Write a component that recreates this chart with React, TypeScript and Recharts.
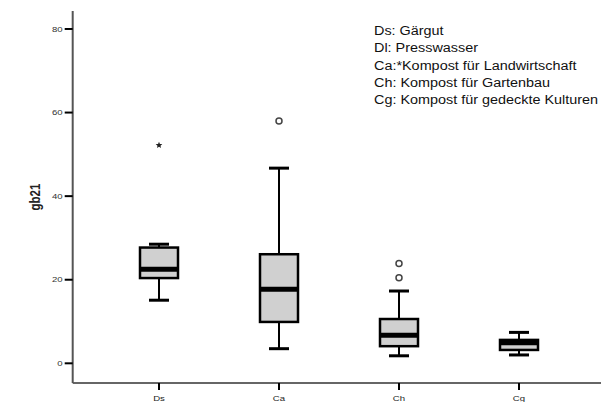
import { Bar, ComposedChart, XAxis, YAxis } from 'recharts'

const groups = ['Ds', 'Ca', 'Ch', 'Cg']
const whiskerLow = [15.1, 3.5, 1.8, 2.0]
const quartile1 = [20.4, 9.9, 4.1, 3.2]
const medians = [22.5, 17.7, 6.7, 4.9]
const quartile3 = [27.7, 26.1, 10.6, 5.6]
const whiskerHigh = [28.5, 46.7, 17.3, 7.4]
const circleOutliers: number[][] = [[], [58.0], [23.9, 20.5], []]
const starOutliers: number[][] = [[52.2], [], [], []]
const yTicks = [0, 20, 40, 60, 80]
const legendLines = [
  'Ds: Gärgut',
  'Dl: Presswasser',
  'Ca:*Kompost für Landwirtschaft',
  'Ch: Kompost für Gartenbau',
  'Cg: Kompost für gedeckte Kulturen',
]

// the source picture is a little wider than tall, text is stretched to match
const STRETCH = 1.2

const rows = groups.map((name, i) => ({
  name,
  low: whiskerLow[i],
  q1: quartile1[i],
  median: medians[i],
  q3: quartile3[i],
  high: whiskerHigh[i],
  circles: circleOutliers[i],
  stars: starOutliers[i],
}))

function starPoints(cx: number, cy: number, r: number) {
  const pts: string[] = []
  for (let k = 0; k < 10; k++) {
    const rad = k % 2 === 0 ? r : r * 0.45
    const a = -Math.PI / 2 + (k * Math.PI) / 5
    pts.push(`${cx + rad * Math.cos(a)},${cy + rad * Math.sin(a)}`)
  }
  return pts.join(' ')
}

function BoxShape(props: any) {
  const { x, y, width, height, payload } = props
  const top = Math.min(y, y + height)
  const bottom = Math.max(y, y + height)
  const span = payload.high - payload.low
  // linear map inside the bar that recharts already scaled from low..high
  const toY = (v: number) => bottom - ((v - payload.low) / span) * (bottom - top)
  const cx = x + width / 2
  const capHalf = 10
  const q1y = toY(payload.q1)
  const q3y = toY(payload.q3)

  return (
    <g>
      <line x1={cx} x2={cx} y1={top} y2={q3y} stroke="#000" strokeWidth={2} />
      <line x1={cx} x2={cx} y1={q1y} y2={bottom} stroke="#000" strokeWidth={2} />
      <line x1={cx - capHalf} x2={cx + capHalf} y1={top} y2={top} stroke="#000" strokeWidth={3} />
      <line x1={cx - capHalf} x2={cx + capHalf} y1={bottom} y2={bottom} stroke="#000" strokeWidth={3} />
      <rect
        x={x}
        y={q3y}
        width={width}
        height={q1y - q3y}
        fill="#d0d0d0"
        stroke="#000"
        strokeWidth={2.5}
      />
      <line
        x1={x}
        x2={x + width}
        y1={toY(payload.median)}
        y2={toY(payload.median)}
        stroke="#000"
        strokeWidth={5}
      />
      {payload.circles.map((v: number) => (
        <circle key={`c${v}`} cx={cx} cy={toY(v)} r={3} fill="#fff" stroke="#444" strokeWidth={1.5} />
      ))}
      {payload.stars.map((v: number) => (
        <polygon key={`s${v}`} points={starPoints(cx, toY(v), 3.5)} fill="#222" />
      ))}
    </g>
  )
}

function YTick(props: any) {
  const { x, y, payload } = props
  return (
    <text
      transform={`translate(${x}, ${y}) scale(${STRETCH}, 1)`}
      textAnchor="end"
      dominantBaseline="central"
      fontSize={8}
      fill="#333"
    >
      {payload.value}
    </text>
  )
}

function XTick(props: any) {
  const { x, y, payload } = props
  return (
    <text
      transform={`translate(${x}, ${y + 6}) scale(${STRETCH}, 1)`}
      textAnchor="middle"
      dominantBaseline="central"
      fontSize={8}
      fill="#222"
    >
      {payload.value}
    </text>
  )
}

function YLabel(props: any) {
  const { viewBox } = props
  const lx = viewBox.x + 36
  const ly = viewBox.y + viewBox.height / 2
  return (
    <text
      transform={`translate(${lx}, ${ly}) scale(${STRETCH}, 1) rotate(-90)`}
      textAnchor="middle"
      dominantBaseline="central"
      fontSize={11.5}
      fontWeight="bold"
      fill="#222"
    >
      gb21
    </text>
  )
}

export default function App() {
  return (
    <div
      style={{
        position: 'fixed',
        left: 0,
        top: 0,
        width: 601,
        height: 402,
        overflow: 'hidden',
        background: '#fff',
        fontFamily: '"Liberation Sans", Arial, sans-serif',
      }}
    >
      <ComposedChart
        width={608}
        height={402}
        data={rows}
        margin={{ top: 11, right: 0, bottom: 0, left: 0 }}
      >
        <XAxis
          dataKey="name"
          type="category"
          height={19}
          padding={{ left: 26.3, right: 29 }}
          axisLine={{ stroke: '#666', strokeWidth: 2 }}
          tickLine={{ stroke: '#000', strokeWidth: 2 }}
          tickSize={7}
          tick={<XTick />}
        />
        <XAxis
          xAxisId="top"
          dataKey="name"
          type="category"
          orientation="top"
          height={0}
          tick={false}
          tickLine={false}
          axisLine={{ stroke: '#777', strokeWidth: 2 }}
        />
        <YAxis
          type="number"
          width={72.7}
          domain={[-4.71, 84.3]}
          allowDataOverflow
          ticks={yTicks}
          axisLine={{ stroke: '#555', strokeWidth: 2 }}
          tickLine={{ stroke: '#000', strokeWidth: 2 }}
          tickSize={8}
          tick={<YTick />}
          label={<YLabel />}
        />
        <Bar
          dataKey={(d: any) => [d.low, d.high]}
          barSize={38}
          shape={<BoxShape />}
          isAnimationActive={false}
        />
      </ComposedChart>
      <div
        style={{
          position: 'absolute',
          left: 374,
          top: 23,
          fontSize: 12,
          lineHeight: '17.3px',
          color: '#111',
          whiteSpace: 'nowrap',
          transform: `scaleX(${STRETCH})`,
          transformOrigin: 'left top',
        }}
      >
        {legendLines.map((line) => (
          <div key={line}>{line}</div>
        ))}
      </div>
    </div>
  )
}
